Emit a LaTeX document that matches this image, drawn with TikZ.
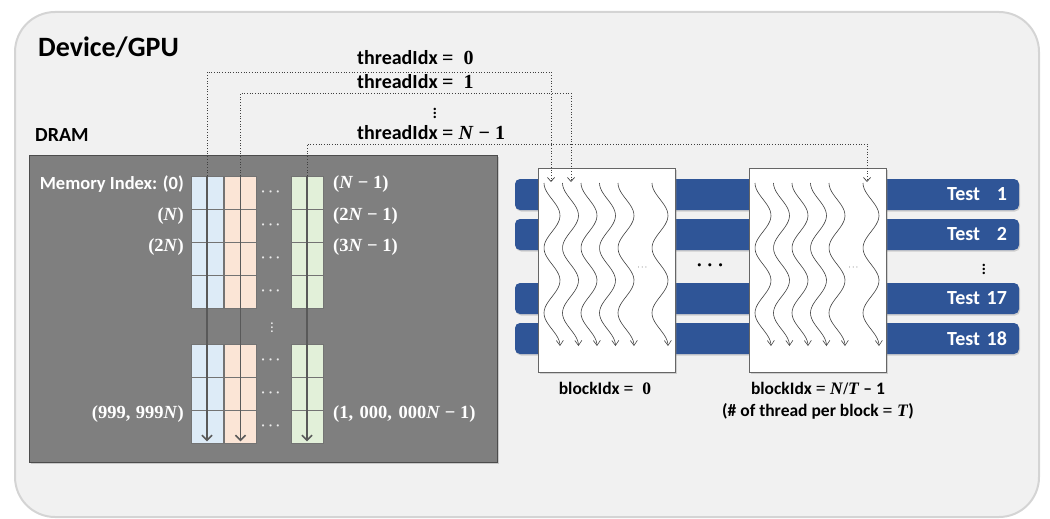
\documentclass[tikz,border=0pt]{standalone}
\usepackage{amsmath}
\usepackage{amssymb}
\usepackage{fontspec}
\setmainfont{Carlito}
\newfontfamily\eqfont{Liberation Serif}
\newcommand{\eqn}[1]{{\eqfont\bfseries #1}}
\usepackage{tikz}
\usetikzlibrary{positioning, arrows.meta, shadows}
\definecolor{panelfill}{HTML}{F1F1F1}
\definecolor{dramfill}{HTML}{7F7F7F}
\definecolor{cellblue}{HTML}{DDEBF7}
\definecolor{cellorange}{HTML}{FBE5D6}
\definecolor{cellgreen}{HTML}{E2F0D9}
\definecolor{barblue}{HTML}{2F5597}

\begin{document}
\begin{tikzpicture}[x=1pt, y=-1pt,
    panel/.style={draw=black!17, line width=2pt, fill=panelfill, rounded corners=40pt,
                  minimum width=1024pt, minimum height=505pt},
    dram/.style={draw=black!70, line width=1pt, fill=dramfill, minimum width=468pt,
                 minimum height=307pt, drop shadow={opacity=0.35, shadow xshift=1.5pt, shadow yshift=-1.5pt}},
    cell/.style={draw=black!55, line width=0.6pt, minimum width=32pt,
                 minimum height=33pt, inner sep=0pt},
    memlbl/.style={text=white, font=\fontsize{18.5}{21}\selectfont\bfseries, inner sep=0pt},
    rowdots/.style={text=black!8, font=\fontsize{15}{15}\selectfont\boldmath, inner sep=0pt},
    idxlbl/.style={font=\fontsize{20}{22}\selectfont\bfseries, inner sep=0pt, anchor=west},
    blklbl/.style={font=\fontsize{17.5}{20}\selectfont\bfseries, inner sep=0pt},
    bigdots/.style={font=\fontsize{20}{20}\selectfont\boldmath, inner sep=0pt},
    testbar/.style={fill=barblue, rounded corners=5pt, minimum height=31pt, text width=480pt,
                    inner xsep=12pt, inner ysep=0pt, align=right, text=white,
                    font=\fontsize{20}{22}\selectfont\bfseries,
                    drop shadow={opacity=0.3, shadow xshift=1pt, shadow yshift=-1.5pt}},
    blockbox/.style={draw=black!60, line width=1pt, fill=white, minimum width=137pt,
                     minimum height=204pt,
                     drop shadow={opacity=0.3, shadow xshift=1.5pt, shadow yshift=-1.5pt}},
    memflow/.style={draw=black!65, line width=1.6pt, shorten >=2pt,
                    -{Straight Barb[length=5pt, width=10pt]}},
    idxflow/.style={draw=black!75, dotted, line width=0.7pt,
                    -{Straight Barb[length=4pt, width=7pt]}},
    wave/.style={draw=black!75, line width=0.6pt, -{Straight Barb[length=5pt, width=7pt]}}]
    \useasboundingbox (0,0) rectangle (1050,519);
    \node[panel] (gpu) at (527,264.5) {};
    \node[anchor=west, font=\fontsize{28}{32}\selectfont\bfseries, inner sep=0pt] (devlbl) at (38,47) {Device/GPU};
    \node[anchor=west, font=\fontsize{20}{24}\selectfont\bfseries, inner sep=0pt] (dramlbl) at (35,135) {DRAM};
    \node[dram] (dram) at (263,308.5) {};

    % memory columns
    \foreach \cx/\cc/\cn in {207/cellblue/b, 240.5/cellorange/o, 307/cellgreen/g} {
      \foreach \r in {0,...,3}
        \node[cell, fill=\cc] (\cn\r) at (\cx,{192.5+33*\r}) {};
      \foreach \r in {4,5,6}
        \node[cell, fill=\cc] (\cn\r) at (\cx,{360.5+33*(\r-4)}) {};
    }
    \foreach \ry [count=\i] in {192.5,225.5,258.5,291.5,360.5,393.5,426.5}
      \node[rowdots] (dots\i) at (272,\ry) {$\cdots$};
    \node[rowdots] (coldots) at (272,325) {$\vdots$};

    \node[memlbl, anchor=east] (mi0) at (184,184) {Memory Index: (0)};
    \node[memlbl, anchor=east] (mi1) at (184,216) {\eqn{(\textit{N})}};
    \node[memlbl, anchor=east] (mi2) at (184,247) {\eqn{(2\textit{N})}};
    \node[memlbl, anchor=east] (mi3) at (184,414) {\eqn{(999,\hspace{0.3em}999\textit{N})}};
    \node[memlbl, anchor=west] (me0) at (333,184) {\eqn{(\textit{N} − 1)}};
    \node[memlbl, anchor=west] (me1) at (333,216) {\eqn{(2\textit{N} − 1)}};
    \node[memlbl, anchor=west] (me2) at (333,247) {\eqn{(3\textit{N} − 1)}};
    \node[memlbl, anchor=west] (me3) at (333,414) {\eqn{(1,\hspace{0.35em}000,\hspace{0.35em}000\textit{N}\ −\ 1)}};

    \foreach \cn in {b,o,g}
      \draw[memflow] (\cn0.north) -- (\cn6.south);

    % tests and blocks
    \node[testbar] (test1) at (767,194.5) {Test \phantom{1}1};
    \node[testbar] (test2) at (767,234.5) {Test \phantom{1}2};
    \node[testbar] (test17) at (767,298.5) {Test 17};
    \node[testbar] (test18) at (767,338.5) {Test 18};
    \node[bigdots] (testdots) at (984,266) {$\vdots$};

    \node[blockbox] (blk0) at (606.5,270) {};
    \node[blockbox] (blk1) at (817.5,270) {};
    \foreach \bl in {538,749}
      \foreach \wo in {14,32.5,51,69.5,88,122}
        \draw[wave] plot[domain=183:346, samples=60, smooth]
          ({\bl+\wo-8*cos(5.5385*(\x-183))}, \x);
    \node[font=\footnotesize, inner sep=0pt] (inblk0) at (643,268) {$\cdots$};
    \node[font=\footnotesize, inner sep=0pt] (inblk1) at (854,268) {$\cdots$};
    \node[bigdots] (gapdots) at (712,266) {$\cdots$};

    % thread index links
    \node[idxlbl] (tid0) at (357,58) {threadIdx \eqn{= \ 0}};
    \node[idxlbl] (tid1) at (357,82) {threadIdx \eqn{= \ 1}};
    \node[bigdots] (tiddots) at (435,110) {$\vdots$};
    \node[idxlbl] (tidn) at (357,133) {threadIdx \eqn{= \textit{N} − 1}};
    \coordinate (lvl0) at (430,72);
    \coordinate (lvl1) at (430,93);
    \coordinate (lvl2) at (430,144);
    \coordinate (in0) at (551,182);
    \coordinate (in1) at (571,182);
    \coordinate (in2) at (867,182);
    \draw[idxflow] (b0.north) |- (lvl0) -| (in0);
    \draw[idxflow] (o0.north) |- (lvl1) -| (in1);
    \draw[idxflow] (g0.north) |- (lvl2) -| (in2);

    \node[blklbl] (bid0) at (605,388) {blockIdx \eqn{= \ 0}};
    \node[blklbl] (bidn) at (818,388) {blockIdx \eqn{= \textit{N}/\textit{T}} – 1};
    \node[blklbl] (tpb) at (818,411) {(\# of thread per block \eqn{= \textit{T}})};
  \end{tikzpicture}
\end{document}
